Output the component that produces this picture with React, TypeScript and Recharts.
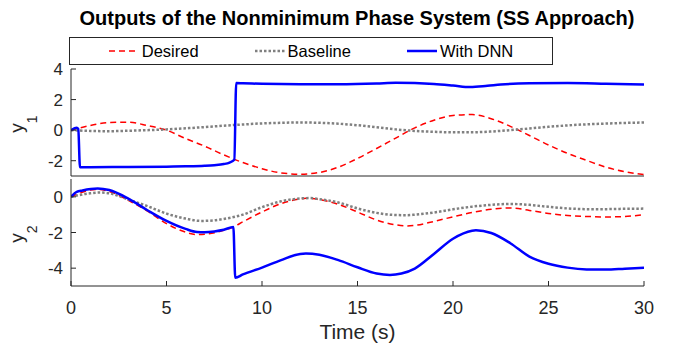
import React from "react";
import { LineChart, Line, XAxis, YAxis } from "recharts";

const FONT = "'Liberation Sans', Arial, Helvetica, sans-serif";
const AX = "#262626";

const X_TICKS = [0, 5, 10, 15, 20, 25, 30];
const Y1_TICKS = [-2, 0, 2, 4];
const Y2_TICKS = [-4, -2, 0];
const Y1_DOMAIN: [number, number] = [-3, 4];
const Y2_DOMAIN: [number, number] = [-5, 1];

// output y1
const T_D1 = [0, 1, 2, 3, 4, 5, 6, 7, 8, 9, 10, 11, 12, 13, 14, 15, 16, 17, 18, 19, 20, 21, 22, 23, 24, 25, 26, 27, 28, 29, 30];
const Y_D1 = [0, 0.3, 0.5, 0.52, 0.3, 0, -0.55, -1.05, -1.62, -2.12, -2.52, -2.8, -2.88, -2.77, -2.42, -1.85, -1.2, -0.52, 0.15, 0.65, 0.96, 1.02, 0.75, 0.25, -0.35, -0.97, -1.52, -1.98, -2.42, -2.72, -2.9];
const T_B1 = T_D1;
const Y_B1 = [0, -0.05, -0.07, -0.04, 0, 0.05, 0.12, 0.2, 0.29, 0.37, 0.44, 0.48, 0.5, 0.48, 0.42, 0.32, 0.19, 0.05, -0.05, -0.11, -0.14, -0.14, -0.09, 0, 0.11, 0.22, 0.31, 0.38, 0.43, 0.47, 0.5];
const T_N1 = [0, 0.3, 0.38, 0.47, 1, 3, 5, 6, 7, 7.5, 8, 8.3, 8.55, 8.65, 9, 10, 12, 14, 16, 17, 18, 19, 20, 20.9, 21.8, 22.5, 24, 26, 28, 30];
const Y_N1 = [0, 0.15, 0.08, -2.42, -2.42, -2.41, -2.39, -2.37, -2.33, -2.29, -2.22, -2.12, -1.94, 3.08, 3.07, 3.03, 3.0, 3.0, 3.05, 3.1, 3.08, 3.02, 2.92, 2.82, 2.9, 2.98, 3.06, 3.08, 3.04, 2.99];

// output y2
const T_D2 = [0, 0.5, 1, 1.4, 2, 3, 4, 5, 6, 6.6, 7, 8, 8.5, 9, 10, 11, 12, 12.3, 13, 14, 15, 16, 17, 17.6, 18, 19, 20, 21, 22, 23, 24, 25, 26, 27, 28, 29, 30];
const Y_D2 = [0, 0.22, 0.38, 0.42, 0.3, -0.2, -0.8, -1.5, -1.98, -2.12, -2.1, -1.88, -1.69, -1.4, -0.85, -0.38, -0.12, -0.08, -0.15, -0.42, -0.85, -1.3, -1.57, -1.63, -1.6, -1.38, -1.12, -0.88, -0.7, -0.62, -0.76, -0.93, -1.05, -1.1, -1.13, -1.1, -1.0];
const T_B2 = [0, 1, 1.5, 2, 3, 4, 5, 6, 6.8, 7.5, 8, 9, 10, 11, 12, 12.5, 13, 14, 15, 16, 17, 17.6, 18, 19, 20, 21, 22, 23, 24, 25, 26, 27, 28, 29, 30];
const Y_B2 = [0, 0.2, 0.24, 0.2, -0.15, -0.52, -0.94, -1.22, -1.35, -1.32, -1.24, -1.0, -0.58, -0.25, -0.09, -0.07, -0.13, -0.32, -0.65, -0.9, -1.02, -1.03, -1.0, -0.88, -0.7, -0.55, -0.45, -0.4, -0.45, -0.56, -0.65, -0.69, -0.69, -0.67, -0.66];
const T_N2 = [0, 0.3, 0.6, 1.4, 2, 3, 4, 5, 6, 6.6, 7, 7.5, 8, 8.5, 8.6, 9, 10, 11, 12, 12.3, 13, 14, 15, 16, 16.7, 17.3, 18, 19, 20, 21, 21.2, 22, 23, 24, 25, 26, 27, 28, 29, 30];
const Y_N2 = [0, 0.28, 0.36, 0.47, 0.38, -0.1, -0.75, -1.35, -1.8, -1.97, -1.98, -1.94, -1.85, -1.69, -4.54, -4.35, -3.97, -3.55, -3.2, -3.18, -3.25, -3.55, -3.95, -4.3, -4.38, -4.3, -4.02, -3.2, -2.35, -1.9, -1.88, -2.03, -2.6, -3.35, -3.75, -3.97, -4.07, -4.08, -4.03, -3.98];

const zip = (ts: number[], vs: number[]) => ts.map((t, i) => ({ t, v: vs[i] }));

const SERIES = [
  { key: "desired", name: "Desired", color: "#FF0000", width: 1.5, dash: "6 4" },
  { key: "baseline", name: "Baseline", color: "#808080", width: 2.5, dash: "2.5 2" },
  { key: "dnn", name: "With DNN", color: "#0000FF", width: 2.5, dash: undefined as string | undefined },
];

const PLOT1 = { desired: zip(T_D1, Y_D1), baseline: zip(T_B1, Y_B1), dnn: zip(T_N1, Y_N1) } as Record<string, { t: number; v: number }[]>;
const PLOT2 = { desired: zip(T_D2, Y_D2), baseline: zip(T_B2, Y_B2), dnn: zip(T_N2, Y_N2) } as Record<string, { t: number; v: number }[]>;

function YLabel({ viewBox, sub }: any) {
  const cx = viewBox.x - 8.5;
  const cy = viewBox.y + viewBox.height / 2 + 1.5;
  return (
    <text x={cx} y={cy} transform={`rotate(-90 ${cx} ${cy})`} textAnchor="middle" fontSize={19} fill={AX} fontFamily={FONT}>
      y<tspan fontSize={14} dy={14}>{sub}</tspan>
    </text>
  );
}

const axisCommon = {
  axisLine: { stroke: AX, strokeWidth: 1 },
  tickLine: { stroke: AX, strokeWidth: 1 },
  tickSize: -5,
};

function Panel({ data, domain, yTicks, sub, height, marginTop, showX }: any) {
  return (
    <LineChart width={679} height={height} margin={{ top: marginTop, right: 35, bottom: 0, left: 31 }}>
      <XAxis xAxisId="b" type="number" dataKey="t" domain={[0, 30]} ticks={X_TICKS} allowDataOverflow
        height={showX ? 66 : 2} {...axisCommon} tickMargin={20}
        tick={showX ? { fill: AX, fontSize: 18, fontFamily: FONT } : false}
        label={showX ? { value: "Time (s)", position: "insideBottom", offset: 13, fill: AX, fontSize: 21, fontFamily: FONT } : undefined} />
      <XAxis xAxisId="top" orientation="top" type="number" dataKey="t" domain={[0, 30]} ticks={X_TICKS} allowDataOverflow
        height={0} {...axisCommon} tick={false} />
      <YAxis yAxisId="l" type="number" domain={domain} ticks={yTicks} allowDataOverflow width={40} {...axisCommon} tickMargin={13}
        tick={{ fill: AX, fontSize: 17, fontFamily: FONT }} label={<YLabel sub={sub} />} />
      <YAxis yAxisId="r" orientation="right" type="number" domain={domain} ticks={yTicks} allowDataOverflow width={0} {...axisCommon} tick={false} />
      {SERIES.map((s) => (
        <Line key={s.key} xAxisId="b" yAxisId="l" data={data[s.key]} dataKey="v" type="monotone" stroke={s.color}
          strokeWidth={s.width} strokeDasharray={s.dash} dot={false} activeDot={false} isAnimationActive={false} />
      ))}
    </LineChart>
  );
}

export default function App() {
  return (
    <div style={{ position: "absolute", left: 0, top: 0, width: 679, height: 352, background: "#fff", fontFamily: FONT, color: AX }}>
      <div style={{ position: "absolute", left: 57, top: 8, width: 600, textAlign: "center", fontSize: 20, lineHeight: "20px", fontWeight: 700, color: "#000", whiteSpace: "nowrap" }}>
        Outputs of the Nonminimum Phase System (SS Approach)
      </div>
      <div style={{ position: "absolute", left: 69, top: 37, width: 484, height: 28, boxSizing: "border-box", border: `1px solid ${AX}`,
        display: "flex", justifyContent: "center", alignItems: "center", gap: 56, fontSize: 16.5, color: "#000" }}>
        {SERIES.map((s) => (
          <div key={s.key} style={{ display: "flex", alignItems: "center", gap: 3 }}>
            <svg width={30} height={6}>
              <line x1={0} y1={3} x2={30} y2={3} stroke={s.color} strokeWidth={s.width} strokeDasharray={s.dash} />
            </svg>
            <span>{s.name}</span>
          </div>
        ))}
      </div>
      <div style={{ position: "absolute", left: 0, top: 0 }}>
        <Panel data={PLOT1} domain={Y1_DOMAIN} yTicks={Y1_TICKS} sub="1" height={178} marginTop={69} showX={false} />
      </div>
      <div style={{ position: "absolute", left: 0, top: 178 }}>
        <Panel data={PLOT2} domain={Y2_DOMAIN} yTicks={Y2_TICKS} sub="2" height={174} marginTop={1} showX />
      </div>
    </div>
  );
}
